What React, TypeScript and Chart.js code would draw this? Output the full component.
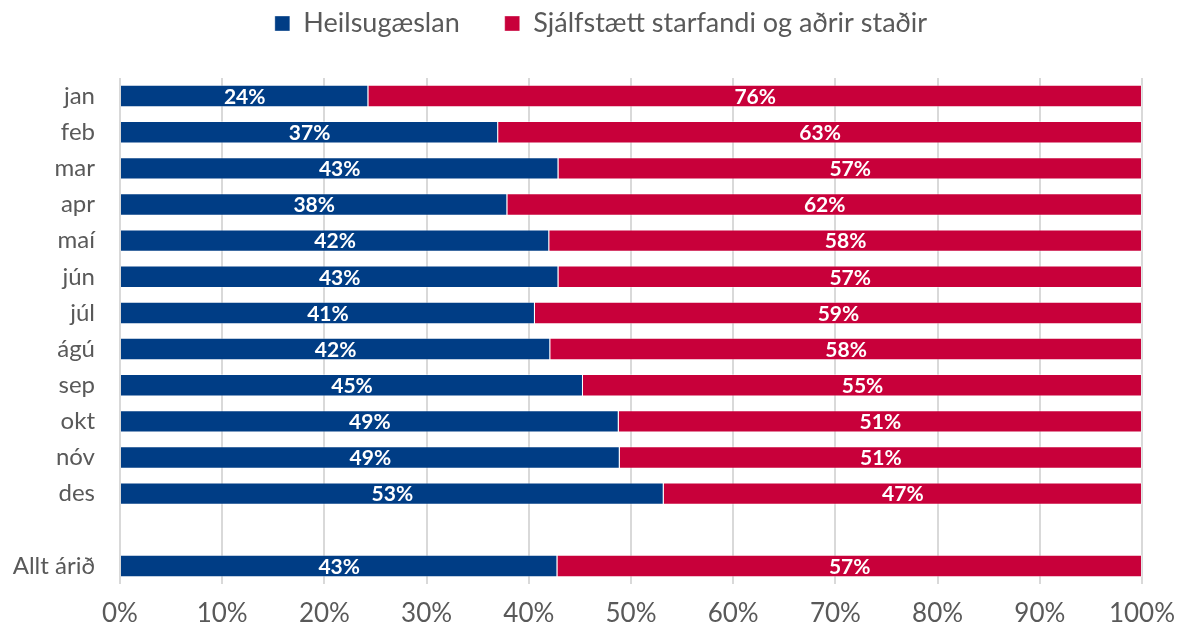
import React, { useEffect, useRef } from "react";
import { Chart, registerables } from "chart.js";

Chart.register(...registerables);

const categories = ["jan", "feb", "mar", "apr", "maí", "jún", "júl", "ágú", "sep", "okt", "nóv", "des", "", "Allt árið"];
const heilsugaeslan = [24.3, 37.0, 42.9, 37.9, 42.0, 42.9, 40.6, 42.1, 45.3, 48.8, 48.9, 53.2, null, 42.8];
const sjalfstaett = [75.7, 63.0, 57.1, 62.1, 58.0, 57.1, 59.4, 57.9, 54.7, 51.2, 51.1, 46.8, null, 57.2];
const xTicks = [0, 10, 20, 30, 40, 50, 60, 70, 80, 90, 100];

const FONT = "Lato, 'Open Sans', sans-serif";

const labelPlugin = {
  id: "barLabels",
  afterDatasetsDraw(chart: any) {
    const ctx = chart.ctx;
    ctx.save();
    ctx.fillStyle = "#ffffff";
    ctx.font = `bold 21px ${FONT}`;
    ctx.textAlign = "center";
    ctx.textBaseline = "middle";
    chart.data.datasets.forEach((ds: any, di: number) => {
      const meta = chart.getDatasetMeta(di);
      meta.data.forEach((bar: any, i: number) => {
        const v = ds.data[i];
        if (v == null) return;
        const cx = (bar.x + bar.base) / 2;
        ctx.fillText(Math.round(v) + "%", cx, bar.y + 1);
      });
    });
    ctx.restore();
  },
};

export default function App() {
  const ref = useRef<HTMLCanvasElement>(null);
  useEffect(() => {
    document.body.style.margin = "0";
    const chart = new Chart(ref.current!, {
      type: "bar",
      data: {
        labels: categories,
        datasets: [
          {
            label: "Heilsugæslan",
            data: heilsugaeslan,
            backgroundColor: "#003d85",
            borderColor: "rgba(255,255,255,0.35)",
            borderWidth: 1,
            barPercentage: 0.62,
            categoryPercentage: 1,
          },
          {
            label: "Sjálfstætt starfandi og aðrir staðir",
            data: sjalfstaett,
            backgroundColor: "#c8003a",
            borderColor: "rgba(255,255,255,0.35)",
            borderWidth: 1,
            barPercentage: 0.62,
            categoryPercentage: 1,
          },
        ],
      },
      options: {
        indexAxis: "y",
        animation: false,
        responsive: false,
        maintainAspectRatio: false,
        layout: { padding: { top: 0, right: 38, bottom: 0, left: 0 } },
        plugins: {
          tooltip: { enabled: false },
          legend: {
            position: "top",
            labels: {
              boxWidth: 15,
              boxHeight: 15,
              padding: 45,
              color: "#595959",
              font: { family: FONT, size: 27 },
            },
          },
        },
        scales: {
          x: {
            stacked: true,
            min: 0,
            max: 100,
            afterBuildTicks(scale: any) {
              scale.ticks = xTicks.map((v) => ({ value: v }));
            },
            ticks: {
              callback: (v: any) => v + "%",
              color: "#595959",
              font: { family: FONT, size: 26 },
              padding: 14,
              maxRotation: 0,
            },
            grid: { color: "#d9d9d9", lineWidth: 2, drawTicks: false },
            border: { display: false },
            afterFit(scale: any) {
              scale.height = 47;
              scale.paddingRight = 0;
              scale.paddingLeft = 0;
            },
          },
          y: {
            stacked: true,
            ticks: {
              color: "#595959",
              font: { family: FONT, size: 24 },
              padding: 25,
              autoSkip: false,
            },
            grid: { display: false, drawTicks: false },
            border: { display: false },
            afterFit(scale: any) {
              scale.width = 120;
            },
          },
        },
      },
      plugins: [
        labelPlugin,
        {
          id: "legendHeight",
          beforeInit(chart: any) {
            const lg = chart.legend;
            if (lg) {
              const origFit = lg.fit;
              lg.fit = function () {
                origFit.call(this);
                this.height = 78;
              };
              const origDraw = lg.draw;
              lg.draw = function () {
                const c = this.ctx;
                c.save();
                c.translate(30, -35);
                origDraw.call(this);
                c.restore();
              };
            }
          },
        },
      ],
    });
    return () => chart.destroy();
  }, []);
  return (
    <div style={{ width: 1180, height: 631 }}>
      <canvas ref={ref} width={1180} height={631} />
    </div>
  );
}
